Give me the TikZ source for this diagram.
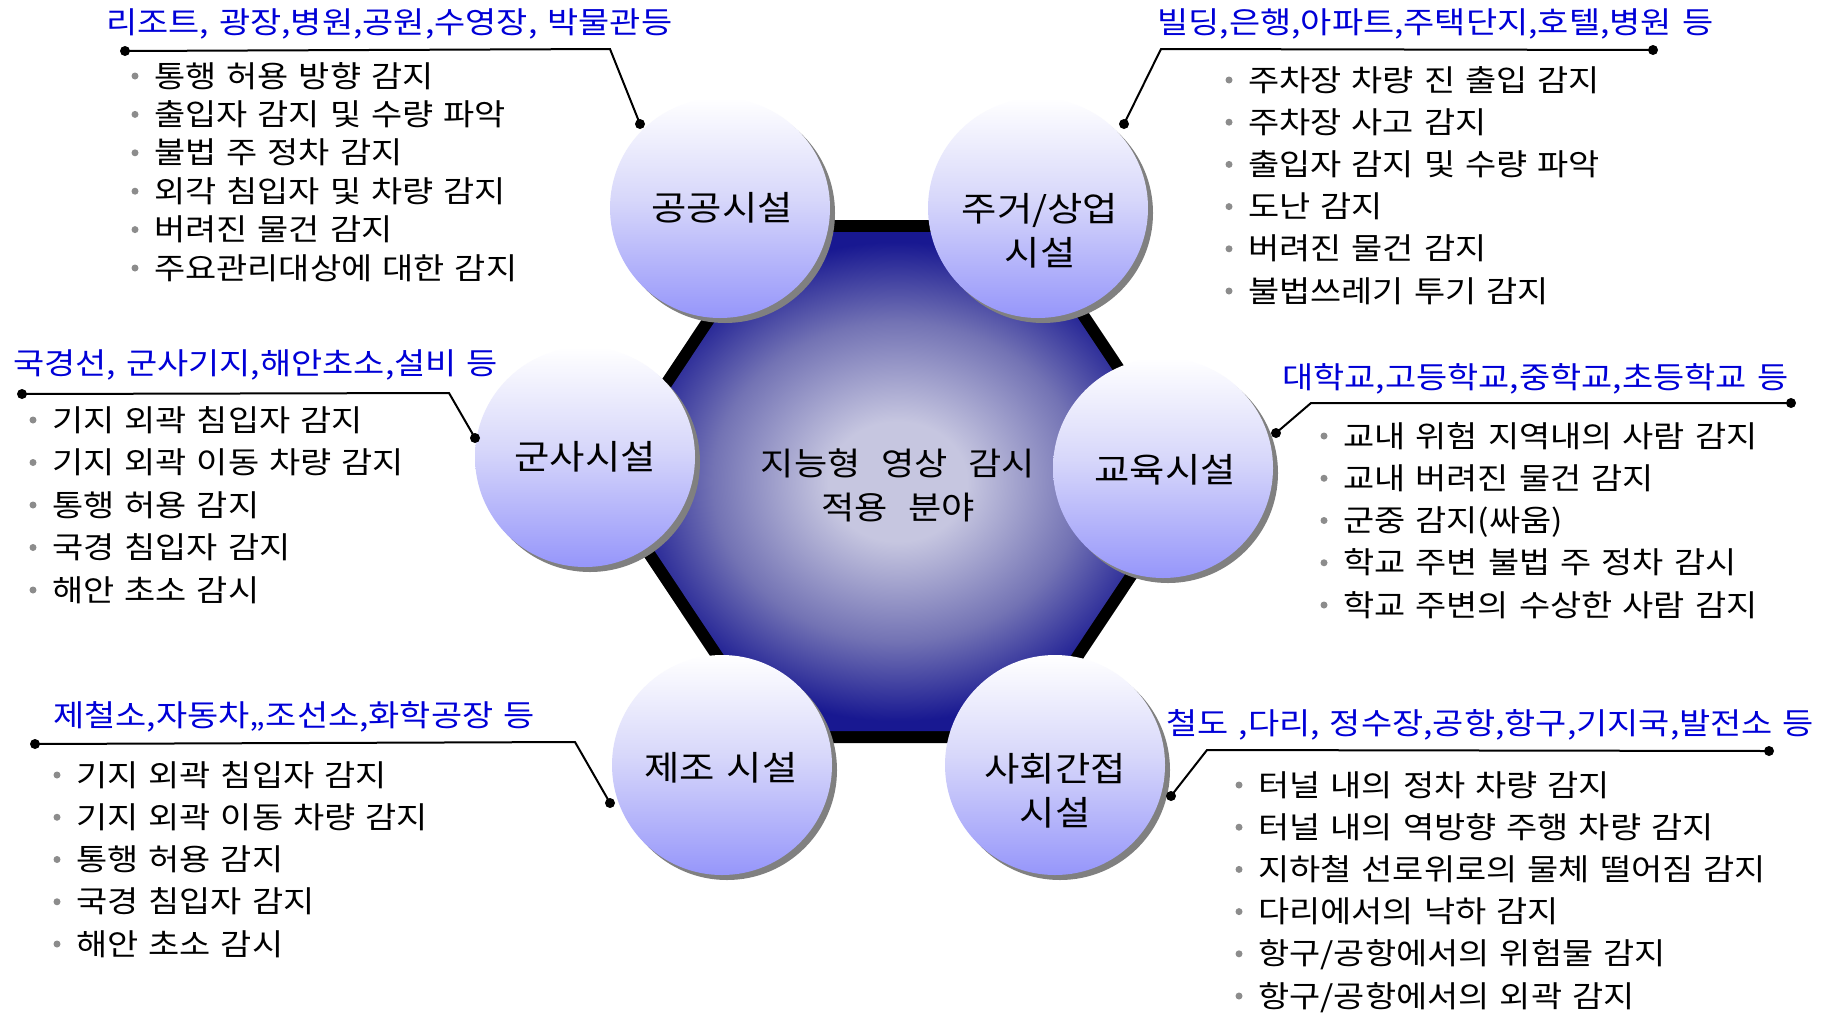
\documentclass[tikz,border=0pt]{standalone}
\usepackage{fontspec}
\setmainfont{Noto Sans CJK KR}[FakeStretch=1.13, WordSpace=1.32]
\usetikzlibrary{shadows}
\definecolor{hdrblue}{RGB}{0,0,215}
\definecolor{bulgray}{RGB}{140,140,140}
\definecolor{hexout}{RGB}{24,24,145}
\definecolor{hexmid}{RGB}{115,115,180}
\definecolor{hexin}{RGB}{198,198,224}
\definecolor{circbot}{RGB}{150,150,250}
\definecolor{circmid}{RGB}{215,215,250}
\definecolor{shadowgray}{RGB}{128,128,128}
\pgfdeclareradialshading{hexsh}{\pgfpoint{0bp}{0bp}}{color(0bp)=(hexin); color(6bp)=(hexin); color(16bp)=(hexmid); color(24bp)=(hexout); color(50bp)=(hexout)}
\pgfdeclareverticalshading{circsh}{100bp}{color(0bp)=(circbot); color(25bp)=(circbot); color(52bp)=(circmid); color(75bp)=(white); color(100bp)=(white)}
\tikzset{
  itemtext/.style={anchor=west, inner sep=0pt, font=\fontsize{30}{36}\selectfont, text height=24pt, text depth=2pt},
  hdrtext/.style={anchor=west, inner sep=0pt, text=hdrblue, font=\fontsize{30}{36}\selectfont, text height=24pt, text depth=2pt},
  circnode/.style={circle, minimum size=220pt, inner sep=0pt, shading=circsh,
     drop shadow={shadow xshift=5pt, shadow yshift=-5pt, fill=shadowgray, opacity=1}},
  circlabel/.style={align=center, inner sep=0pt, font=\fontsize{34}{44}\selectfont},
  conn/.style={line width=2pt, black},
  enddot/.style={fill=black},
}
\newcommand\mkitems[5]{%
  \foreach \t [count=\i] in {#5} {
    \node[itemtext] (#1\i) at (#2,{#3+#4*(\i-1)}) {\t};
    \fill[bulgray] ([xshift=-19pt]#1\i.west) circle (3.5pt);
  }}
\begin{document}
\begin{tikzpicture}[x=1pt,y=-1pt]
\useasboundingbox (0,0) rectangle (1838,1013);
\fill[white] (0,0) rectangle (1838,1013);
% hexagon
\fill[black] (768,220) -- (1027,220) -- (1201,481.5) -- (1027,743) -- (768,743) -- (594,481.5) -- cycle;
\shade[shading=hexsh] (774.4,232) -- (1020.6,232) -- (1186.6,481.5) -- (1020.6,731) -- (774.4,731) -- (608.4,481.5) -- cycle;
\node[circlabel, font=\fontsize{32}{44}\selectfont] (center) at (898,485) {지능형\hspace{0.65em}영상\hspace{0.65em}감시\\적용\hspace{0.65em}분야};
% circles
\node[circnode] (c1) at (720,208) {};
\node[circnode] (c2) at (1038,208) {};
\node[circnode] (c3) at (585,457) {};
\node[circnode] (c4) at (1163,468) {};
\node[circnode] (c5) at (722,765) {};
\node[circnode] (c6) at (1055,765) {};
\node[circlabel] (l1) at (722,208) {공공시설};
\node[circlabel] (l2) at (1040,231) {주거/상업\\시설};
\node[circlabel] (l3) at (585,457) {군사시설};
\node[circlabel] (l4) at (1165,470) {교육시설};
\node[circlabel] (l5) at (721,768) {제조 시설};
\node[circlabel] (l6) at (1055,791) {사회간접\\시설};
% connectors
\coordinate (p1a) at (125,51); \coordinate (p1b) at (610,49); \coordinate (p1c) at (640,124);
\coordinate (p2a) at (1653,50); \coordinate (p2b) at (1161,49); \coordinate (p2c) at (1124,124);
\coordinate (p3a) at (22,394); \coordinate (p3b) at (449,393); \coordinate (p3c) at (475,438);
\coordinate (p4a) at (1791,403); \coordinate (p4b) at (1311,403); \coordinate (p4c) at (1276,433);
\coordinate (p5a) at (35,744); \coordinate (p5b) at (575,742); \coordinate (p5c) at (610,803);
\coordinate (p6a) at (1769,751); \coordinate (p6b) at (1207,750); \coordinate (p6c) at (1171,796);
\foreach \k in {1,...,6} {
  \draw[conn] (p\k a) -- (p\k b) -- (p\k c);
  \fill[enddot] (p\k a) circle (5pt);
  \fill[enddot] (p\k c) circle (5pt);
}
% headers
\node[hdrtext] (h1) at (106,22) {리조트, 광장,병원,공원,수영장, 박물관등};
\node[hdrtext] (h2) at (1157,22) {빌딩,은행,아파트,주택단지,호텔,병원 등};
\node[hdrtext] (h3) at (13,363) {국경선, 군사기지,해안초소,설비 등};
\node[hdrtext] (h4) at (1282,377) {대학교,고등학교,중학교,초등학교 등};
\node[hdrtext] (h5) at (53,715) {제철소,자동차,,조선소,화학공장 등};
\node[hdrtext] (h6) at (1166,723) {철도 ,다리, 정수장,공항,항구,기지국,발전소 등};
% items
\mkitems{a}{154}{76}{38.4}{통행 허용 방향 감지, 출입자 감지 및 수량 파악, 불법 주 정차 감지, 외각 침입자 및 차량 감지, 버려진 물건 감지, 주요관리대상에 대한 감지}
\mkitems{b}{1248}{80}{42.2}{주차장 차량 진 출입 감지, 주차장 사고 감지, 출입자 감지 및 수량 파악, 도난 감지, 버려진 물건 감지, 불법쓰레기 투기 감지}
\mkitems{c}{52}{420}{42.5}{기지 외곽 침입자 감지, 기지 외곽 이동 차량 감지, 통행 허용 감지, 국경 침입자 감지, 해안 초소 감시}
\mkitems{d}{1343}{436}{42.25}{교내 위험 지역내의 사람 감지, 교내 버려진 물건 감지, 군중 감지(싸움), 학교 주변 불법 주 정차 감시, 학교 주변의 수상한 사람 감지}
\mkitems{e}{76}{775}{42.25}{기지 외곽 침입자 감지, 기지 외곽 이동 차량 감지, 통행 허용 감지, 국경 침입자 감지, 해안 초소 감시}
\mkitems{f}{1258}{785}{42.2}{터널 내의 정차 차량 감지, 터널 내의 역방향 주행 차량 감지, 지하철 선로위로의 물체 떨어짐 감지, 다리에서의 낙하 감지, 항구/공항에서의 위험물 감지, 항구/공항에서의 외곽 감지}
\end{tikzpicture}
\end{document}
